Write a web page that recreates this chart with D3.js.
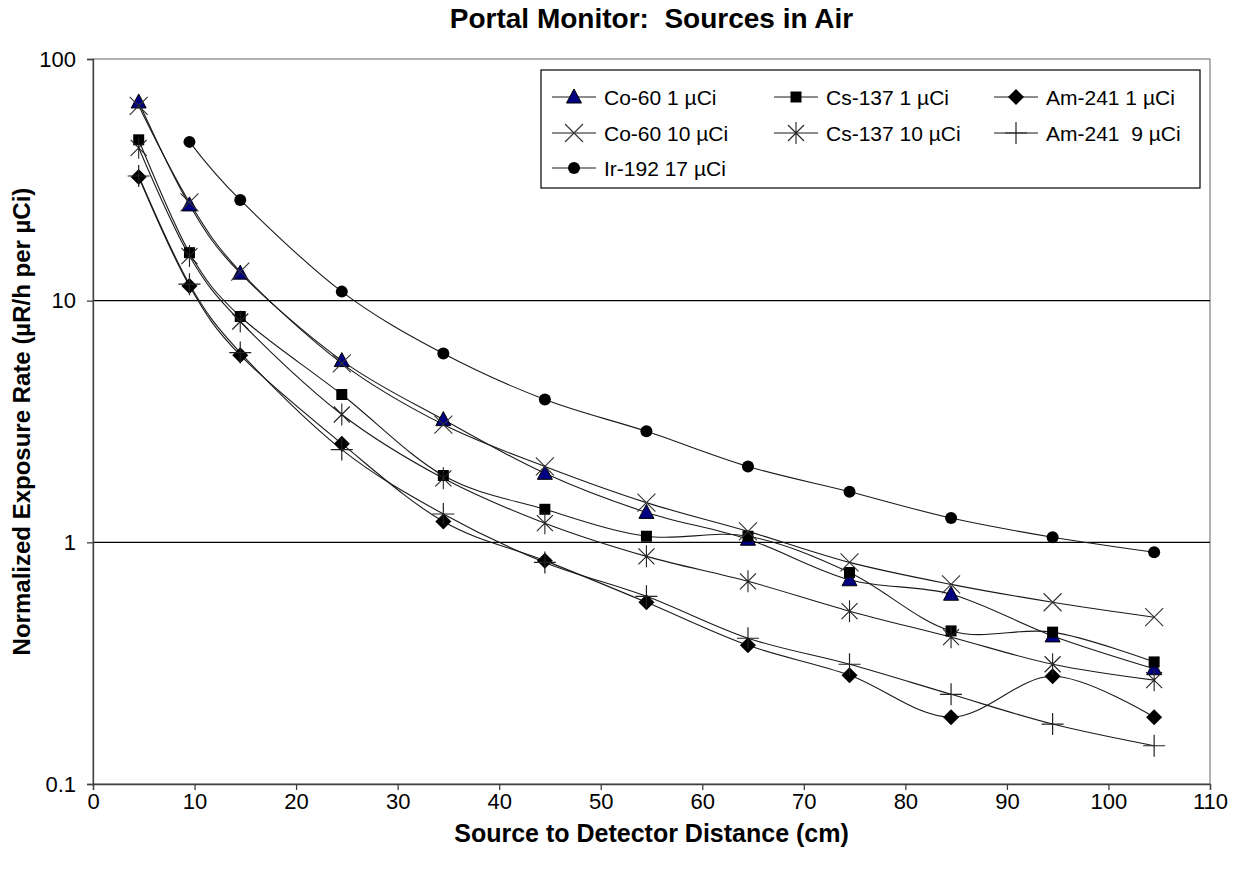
<!DOCTYPE html>
<html><head><meta charset="utf-8">
<script src="https://cdn.jsdelivr.net/npm/d3@7"></script>
<style>
html,body{margin:0;padding:0;background:#fff;}
svg{display:block;font-family:"Liberation Sans",Arial,sans-serif;}
text{white-space:pre;}
</style></head>
<body>
<svg id="chart" width="1234" height="875"></svg>
<script>
// ---- data ----
const distances = [4.5, 9.5, 14.5, 24.5, 34.5, 44.5, 54.5, 64.5, 74.5, 84.5, 94.5, 104.5];
const irDistances = [9.5, 14.5, 24.5, 34.5, 44.5, 54.5, 64.5, 74.5, 84.5, 94.5, 104.5];
const co60_1 = [66.4, 24.9, 13.0, 5.65, 3.22, 1.93, 1.33, 1.03, 0.70, 0.61, 0.41, 0.30];
const cs137_1 = [46.3, 15.8, 8.6, 4.09, 1.89, 1.37, 1.06, 1.06, 0.75, 0.43, 0.425, 0.32];
const am241_1 = [32.5, 11.5, 5.95, 2.56, 1.22, 0.84, 0.565, 0.375, 0.282, 0.189, 0.279, 0.189];
const co60_10 = [64, 25.5, 13.2, 5.5, 3.07, 2.06, 1.46, 1.11, 0.826, 0.67, 0.565, 0.49];
const cs137_10 = [42.9, 15.3, 8.2, 3.38, 1.84, 1.20, 0.875, 0.69, 0.519, 0.405, 0.313, 0.269];
const am241_9 = [32.8, 11.7, 6.1, 2.42, 1.31, 0.826, 0.598, 0.401, 0.313, 0.235, 0.177, 0.144];
const ir192_17 = [45.4, 26.1, 10.9, 6.04, 3.90, 2.88, 2.06, 1.62, 1.26, 1.05, 0.91];
const seriesNames = ["Co-60 1 µCi", "Cs-137 1 µCi", "Am-241 1 µCi", "Co-60 10 µCi", "Cs-137 10 µCi", "Am-241  9 µCi", "Ir-192 17 µCi"];
const xTicks = [0, 10, 20, 30, 40, 50, 60, 70, 80, 90, 100, 110];
const yTicks = [0.1, 1, 10, 100];
const yTickLabels = ["0.1", "1", "10", "100"];
const chartTitle = "Portal Monitor:  Sources in Air";
const xTitle = "Source to Detector Distance (cm)";
const yTitle = "Normalized Exposure Rate (µR/h per µCi)";

// ---- layout ----
const M = {left: 93, right: 1210, top: 59, bottom: 784};
const svg = d3.select("#chart");
const x = d3.scaleLinear().domain([0, 110]).range([M.left, M.right]);
const y = d3.scaleLog().domain([0.1, 100]).range([M.bottom, M.top]);

const series = [
  {name: seriesNames[0], xs: distances, vals: co60_1, marker: "triangle"},
  {name: seriesNames[1], xs: distances, vals: cs137_1, marker: "square"},
  {name: seriesNames[2], xs: distances, vals: am241_1, marker: "diamond"},
  {name: seriesNames[3], xs: distances, vals: co60_10, marker: "x"},
  {name: seriesNames[4], xs: distances, vals: cs137_10, marker: "star"},
  {name: seriesNames[5], xs: distances, vals: am241_9, marker: "plus"},
  {name: seriesNames[6], xs: irDistances, vals: ir192_17, marker: "circle"}
];

// plot border
svg.append("rect").attr("x", M.left).attr("y", M.top)
  .attr("width", M.right - M.left).attr("height", M.bottom - M.top)
  .attr("fill", "none").attr("stroke", "#808080").attr("stroke-width", 1.2);

// gridlines
svg.append("g").selectAll("line").data([1, 10]).join("line")
  .attr("x1", M.left).attr("x2", M.right)
  .attr("y1", d => y(d)).attr("y2", d => y(d))
  .attr("stroke", "#000").attr("stroke-width", 1.2);

// axes
const xAxis = d3.axisBottom(x).tickValues(xTicks).tickSize(6).tickPadding(3).tickFormat(d3.format("d"));
const gx = svg.append("g").attr("transform", `translate(0,${M.bottom})`).call(xAxis);
const yAxis = d3.axisLeft(y).tickValues(yTicks).tickSize(6).tickPadding(11)
  .tickFormat((d, i) => yTickLabels[i]);
const gy = svg.append("g").attr("transform", `translate(${M.left},0)`).call(yAxis);
[gx, gy].forEach(g => {
  g.select(".domain").attr("stroke", "#404040").attr("stroke-width", 1.3);
  g.selectAll(".tick line").attr("stroke", "#404040").attr("stroke-width", 1.3);
  g.selectAll(".tick text").attr("font-size", 22).attr("fill", "#000")
    .attr("font-family", "'Liberation Sans', Arial, sans-serif");
});

// titles
svg.append("text").attr("x", (M.left + M.right) / 2).attr("y", 28)
  .attr("text-anchor", "middle").attr("font-size", 28).attr("font-weight", "bold").text(chartTitle);
svg.append("text").attr("x", (M.left + M.right) / 2).attr("y", 842)
  .attr("text-anchor", "middle").attr("font-size", 25).attr("font-weight", "bold").text(xTitle);
svg.append("text").attr("transform", `translate(30,${(M.top + M.bottom) / 2}) rotate(-90)`)
  .attr("text-anchor", "middle").attr("font-size", 24).attr("font-weight", "bold").text(yTitle);

// markers
function drawMarker(g, type, cx, cy) {
  switch (type) {
    case "triangle":
      g.append("path").attr("d", `M${cx},${cy - 8}L${cx + 7.5},${cy + 6}L${cx - 7.5},${cy + 6}Z`)
        .attr("fill", "#000080").attr("stroke", "#000").attr("stroke-width", 1);
      break;
    case "square":
      g.append("rect").attr("x", cx - 5.5).attr("y", cy - 5.5).attr("width", 11).attr("height", 11)
        .attr("fill", "#000");
      break;
    case "diamond":
      g.append("path").attr("d", `M${cx},${cy - 8}L${cx + 8},${cy}L${cx},${cy + 8}L${cx - 8},${cy}Z`)
        .attr("fill", "#000");
      break;
    case "circle":
      g.append("circle").attr("cx", cx).attr("cy", cy).attr("r", 6).attr("fill", "#000");
      break;
    case "x":
      g.append("path").attr("d", `M${cx - 9},${cy - 9}L${cx + 9},${cy + 9}M${cx - 9},${cy + 9}L${cx + 9},${cy - 9}`)
        .attr("stroke", "#333").attr("stroke-width", 1.1).attr("fill", "none");
      break;
    case "star":
      g.append("path").attr("d", `M${cx - 8},${cy - 8}L${cx + 8},${cy + 8}M${cx - 8},${cy + 8}L${cx + 8},${cy - 8}M${cx},${cy - 11}L${cx},${cy + 11}`)
        .attr("stroke", "#222").attr("stroke-width", 1.1).attr("fill", "none");
      break;
    case "plus":
      g.append("path").attr("d", `M${cx - 11},${cy}L${cx + 11},${cy}M${cx},${cy - 11}L${cx},${cy + 11}`)
        .attr("stroke", "#222").attr("stroke-width", 1.2).attr("fill", "none");
      break;
  }
}

const line = d3.line().curve(d3.curveCatmullRom.alpha(0));
const plot = svg.append("g");
series.forEach(s => {
  const pts = s.vals.map((v, i) => [x(s.xs[i]), y(v)]);
  plot.append("path").attr("d", line(pts)).attr("fill", "none")
    .attr("stroke", "#1a1a1a").attr("stroke-width", 1.1);
});
series.forEach(s => {
  const g = plot.append("g");
  s.vals.forEach((v, i) => drawMarker(g, s.marker, x(s.xs[i]), y(v)));
});

// legend
const L = {x: 541, y: 70, w: 659, h: 118};
const lg = svg.append("g");
lg.append("rect").attr("x", L.x).attr("y", L.y).attr("width", L.w).attr("height", L.h)
  .attr("fill", "#fff").attr("stroke", "#000").attr("stroke-width", 1.2);
const colX = [552, 774, 994];
const rowY = [97, 133, 168];
series.forEach((s, i) => {
  const cx0 = colX[i % 3], cy0 = rowY[Math.floor(i / 3)];
  lg.append("line").attr("x1", cx0).attr("x2", cx0 + 44).attr("y1", cy0).attr("y2", cy0)
    .attr("stroke", "#1a1a1a").attr("stroke-width", 1.1);
  drawMarker(lg, s.marker, cx0 + 22, cy0);
  lg.append("text").attr("x", cx0 + 52).attr("y", cy0 + 8).attr("font-size", 21).text(s.name);
});
</script>
</body></html>
